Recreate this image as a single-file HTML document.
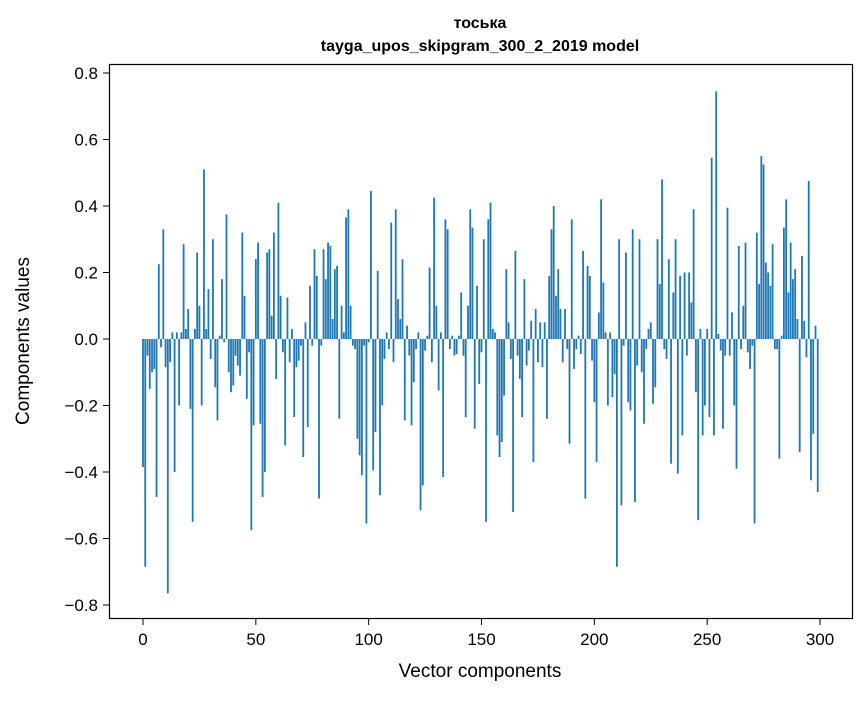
<!DOCTYPE html>
<html><head><meta charset="utf-8"><style>
body{margin:0;background:#fff}
svg{font-family:"Liberation Sans","DejaVu Sans",sans-serif}
</style></head><body>
<svg id="chart" width="867" height="696" xmlns="http://www.w3.org/2000/svg">
<rect width="867" height="696" fill="#fff"/>
<text x="480" y="28" text-anchor="middle" font-size="16" font-weight="bold">тоська</text>
<text x="480" y="51" text-anchor="middle" font-size="16" font-weight="bold">tayga_upos_skipgram_300_2_2019 model</text>
<g id="bars"></g>
<g id="axes"></g>
<rect x="109.5" y="64.5" width="743" height="554" fill="none" stroke="#000" stroke-width="1.2"/>
<text x="480" y="677" text-anchor="middle" font-size="19">Vector components</text>
<text transform="translate(29,341) rotate(-90)" text-anchor="middle" font-size="19">Components values</text>
</svg>
<script>
const values=[-0.385,-0.685,-0.05,-0.15,-0.1,-0.09,-0.475,0.225,-0.025,0.33,
-0.085,-0.765,-0.07,0.02,-0.4,0.02,-0.2,0.02,0.285,0.03,
0.09,-0.21,-0.55,0.03,0.26,0.1,-0.2,0.51,0.03,0.15,
-0.06,0.3,-0.145,-0.245,0.01,0.18,-0.01,0.375,-0.1,-0.16,
-0.14,-0.05,-0.08,-0.11,0.32,0.13,-0.18,-0.04,-0.575,-0.26,
0.24,0.29,-0.255,-0.475,-0.4,0.26,0.27,0.07,0.32,-0.12,
0.41,0.13,-0.04,-0.32,0.125,-0.07,0.03,-0.235,-0.085,-0.065,
-0.02,-0.355,0.05,-0.265,0.16,-0.02,0.27,0.19,-0.48,-0.02,
0.27,0.18,0.29,0.28,0.06,0.21,0.22,-0.24,0.1,0.02,
0.365,0.39,0.1,-0.02,-0.03,-0.3,-0.35,-0.41,-0.02,-0.555,
-0.01,0.445,-0.395,-0.28,0.205,-0.47,-0.2,-0.06,0.02,-0.03,
0.35,-0.07,0.39,0.12,0.06,0.24,-0.245,0.04,-0.05,-0.26,
-0.13,-0.03,0.02,-0.515,-0.44,-0.035,0.01,0.215,-0.07,0.425,
0.1,-0.155,0.02,-0.415,0.36,0.33,-0.03,0.01,-0.05,-0.045,
0.01,0.14,-0.05,-0.235,0.1,0.39,0.335,-0.27,0.16,-0.135,
-0.04,0.3,-0.55,0.36,0.41,0.03,0.02,-0.29,-0.355,-0.31,
-0.17,0.21,0.05,-0.06,-0.52,0.265,-0.05,-0.12,-0.235,0.18,
-0.08,-0.035,0.055,-0.37,0.09,-0.07,0.05,-0.085,0.05,-0.24,
0.19,0.33,0.4,0.13,0.21,0.09,-0.07,0.09,-0.03,-0.315,
0.36,-0.09,-0.03,0.01,-0.045,0.265,-0.48,0.22,0.19,-0.065,
-0.19,-0.37,0.08,0.42,0.17,0.02,-0.2,0.02,-0.175,-0.105,
-0.685,0.3,-0.5,-0.02,0.26,-0.19,-0.215,0.33,-0.49,-0.08,
0.3,-0.1,-0.255,-0.03,0.03,0.05,-0.195,-0.145,0.3,0.165,
0.48,-0.03,-0.06,0.24,-0.375,0.14,0.3,-0.405,0.19,-0.29,
0.2,-0.05,0.2,0.11,0.39,-0.16,-0.545,0.03,-0.29,-0.2,
0.03,-0.235,0.545,-0.29,0.745,0.015,-0.035,-0.27,-0.05,0.395,
-0.05,0.08,-0.2,-0.39,0.28,-0.03,0.1,0.29,-0.04,-0.09,
-0.02,-0.555,0.32,0.165,0.55,0.525,0.23,0.2,0.16,0.285,
-0.03,-0.03,-0.36,0.01,0.335,0.42,0.14,0.29,0.18,0.21,
0.06,-0.34,0.25,0.055,-0.055,0.475,-0.425,-0.285,0.04,-0.46];
const xTicks=[0,50,100,150,200,250,300];
const yTicks=[-0.8,-0.6,-0.4,-0.2,0.0,0.2,0.4,0.6,0.8];
const yTickLabels=["−0.8","−0.6","−0.4","−0.2","0.0","0.2","0.4","0.6","0.8"];
const NS="http://www.w3.org/2000/svg";
const xs=i=>143+i*(677/300);
const ys=v=>339-v*332.5;
const bars=document.getElementById('bars');
values.forEach((v,i)=>{
  const r=document.createElementNS(NS,'rect');
  
  
  const w=0.8*677/300;
  r.setAttribute('x',xs(i)-w/2);
  r.setAttribute('width',w);
  r.setAttribute('y',Math.min(ys(v),ys(0)));
  r.setAttribute('height',Math.abs(ys(v)-ys(0)));
  r.setAttribute('fill','#1f77b4');
  bars.appendChild(r);
});
const ax=document.getElementById('axes');
xTicks.forEach(t=>{
  const l=document.createElementNS(NS,'line');
  
  
  l.setAttribute('x1',xs(t));l.setAttribute('x2',xs(t));
  l.setAttribute('y1',618.5);l.setAttribute('y2',625);l.setAttribute('stroke','#000');
  ax.appendChild(l);
  const tx=document.createElementNS(NS,'text');
  
  
  tx.setAttribute('x',xs(t));tx.setAttribute('y',645);
  tx.setAttribute('text-anchor','middle');tx.setAttribute('font-size','17');
  tx.textContent=t;ax.appendChild(tx);
});
yTicks.forEach((t,k)=>{
  const l=document.createElementNS(NS,'line');
  
  
  l.setAttribute('x1',103);l.setAttribute('x2',109.5);
  l.setAttribute('y1',ys(t));l.setAttribute('y2',ys(t));l.setAttribute('stroke','#000');
  ax.appendChild(l);
  const tx=document.createElementNS(NS,'text');
  
  
  tx.setAttribute('x',98);tx.setAttribute('y',ys(t)+6);
  tx.setAttribute('text-anchor','end');tx.setAttribute('font-size','17');
  tx.textContent=yTickLabels[k];ax.appendChild(tx);
});
</script>
</body></html>
